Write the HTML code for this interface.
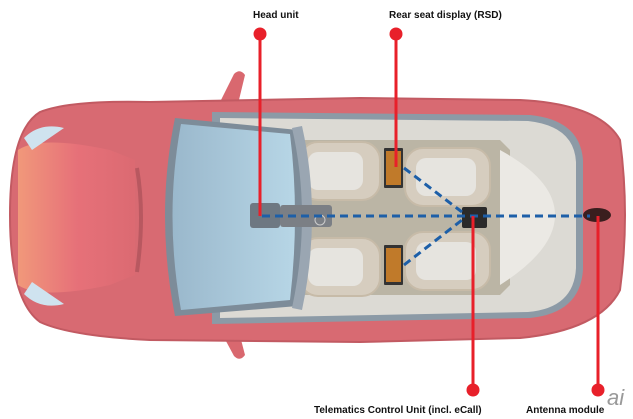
<!DOCTYPE html>
<html><head><meta charset="utf-8"><style>
html,body{margin:0;padding:0;background:#fff;width:633px;height:419px;overflow:hidden}
svg{display:block}
text{font-family:"Liberation Sans",sans-serif;font-weight:bold;font-size:10px;fill:#111}
</style></head><body>
<svg width="633" height="419" viewBox="0 0 633 419">
<defs>
<linearGradient id="hood" x1="0" x2="1"><stop offset="0" stop-color="#f5a07c"/><stop offset="0.5" stop-color="#e9727a"/><stop offset="1" stop-color="#dc6a72"/></linearGradient>
<linearGradient id="glass" x1="0" x2="1"><stop offset="0" stop-color="#9ab8cc"/><stop offset="1" stop-color="#b7d6e6"/></linearGradient>
</defs>
<path d="M220,102 L234,74 Q240,68 245,75 L238,104 Z" fill="#d9686f"/>
<path d="M220,330 L234,356 Q240,362 245,355 L238,328 Z" fill="#d9686f"/>
<path d="M40,112 Q70,100 150,102 L360,98 L520,100 Q600,104 620,140 Q630,215 620,290 Q600,330 520,338 L360,342 L150,340 Q70,336 40,322 Q10,300 10,215 Q10,130 40,112 Z" fill="#d86a72" stroke="#c25a62" stroke-width="2"/>
<path d="M18,150 Q40,135 110,150 L135,160 L135,275 L110,285 Q40,300 18,285 Z" fill="url(#hood)" opacity="0.85"/>
<path d="M24,138 Q40,122 64,128 L32,150 Z" fill="#cfe3ef"/>
<path d="M24,294 Q40,310 64,304 L32,282 Z" fill="#cfe3ef"/>
<path d="M137,168 Q145,215 137,272" stroke="#b85860" stroke-width="4" fill="none"/>
<path d="M212,112 L530,115 Q580,120 583,160 L583,270 Q580,313 530,318 L212,324 Z" fill="#8c9aa6"/>
<path d="M220,118 L528,121 Q574,126 576,162 L576,268 Q574,308 528,312 L220,318 Z" fill="#dcdad4"/>
<path d="M290,140 L500,140 L510,150 L510,285 L500,295 L290,295 Z" fill="#b3ab98" opacity="0.8"/>
<g fill="#d6cdbf" stroke="#c7bba8" stroke-width="2">
<rect x="300" y="142" width="80" height="58" rx="18"/>
<rect x="300" y="238" width="80" height="58" rx="18"/>
<rect x="405" y="148" width="85" height="58" rx="18"/>
<rect x="405" y="232" width="85" height="58" rx="18"/>
</g>
<g fill="#e6e4df">
<rect x="308" y="152" width="55" height="38" rx="10"/>
<rect x="308" y="248" width="55" height="38" rx="10"/>
<rect x="416" y="158" width="60" height="38" rx="10"/>
<rect x="416" y="242" width="60" height="38" rx="10"/>
</g>
<path d="M500,150 Q555,180 555,215 Q555,250 500,285 Z" fill="#ebe9e4"/>
<path d="M175,118 L298,130 Q310,215 298,306 L175,316 Q155,215 175,118 Z" fill="#7d8c99"/>
<path d="M181,124 L290,134 Q300,215 290,300 L181,310 Q164,215 181,124 Z" fill="url(#glass)"/>
<path d="M292,128 Q312,215 292,308 L302,310 Q322,215 302,126 Z" fill="#9aa6b2"/>
<rect x="250" y="203" width="30" height="25" rx="3" fill="#6e7882"/>
<rect x="280" y="205" width="52" height="22" rx="3" fill="#7b7f85"/>
<circle cx="320" cy="220" r="5" fill="none" stroke="#ccc" stroke-width="1"/>
<rect x="384" y="148" width="19" height="40" rx="1" fill="#333"/>
<rect x="386" y="151" width="15" height="34" fill="#c07a2a"/>
<rect x="384" y="245" width="19" height="40" rx="1" fill="#333"/>
<rect x="386" y="248" width="15" height="34" fill="#c07a2a"/>
<rect x="462" y="207" width="25" height="21" rx="2" fill="#2a2a2a"/>
<ellipse cx="597" cy="215" rx="14" ry="7" fill="#3a1e1e"/>
<g stroke="#1d5fa8" stroke-width="3" stroke-dasharray="8,5" fill="none">
<line x1="262" y1="216" x2="590" y2="216"/>
<line x1="404" y1="168" x2="462" y2="212"/>
<line x1="404" y1="265" x2="462" y2="220"/>
</g>
<g stroke="#e8202a" stroke-width="3">
<line x1="260" y1="34" x2="260" y2="216"/>
<line x1="396" y1="34" x2="396" y2="167"/>
<line x1="473" y1="216" x2="473" y2="390"/>
<line x1="598" y1="216" x2="598" y2="390"/>
</g>
<g fill="#e8202a">
<circle cx="260" cy="34" r="6.5"/><circle cx="396" cy="34" r="6.5"/>
<circle cx="473" cy="390" r="6.5"/><circle cx="598" cy="390" r="6.5"/>
</g>
<text x="253" y="18">Head unit</text>
<text x="389" y="18">Rear seat display (RSD)</text>
<text x="314" y="413">Telematics Control Unit (incl. eCall)</text>
<text x="526" y="413">Antenna module</text>
<text x="607" y="405" style="font-size:22px;font-style:italic;font-weight:normal;fill:#9a9a9a">ai</text>
</svg>
</body></html>
